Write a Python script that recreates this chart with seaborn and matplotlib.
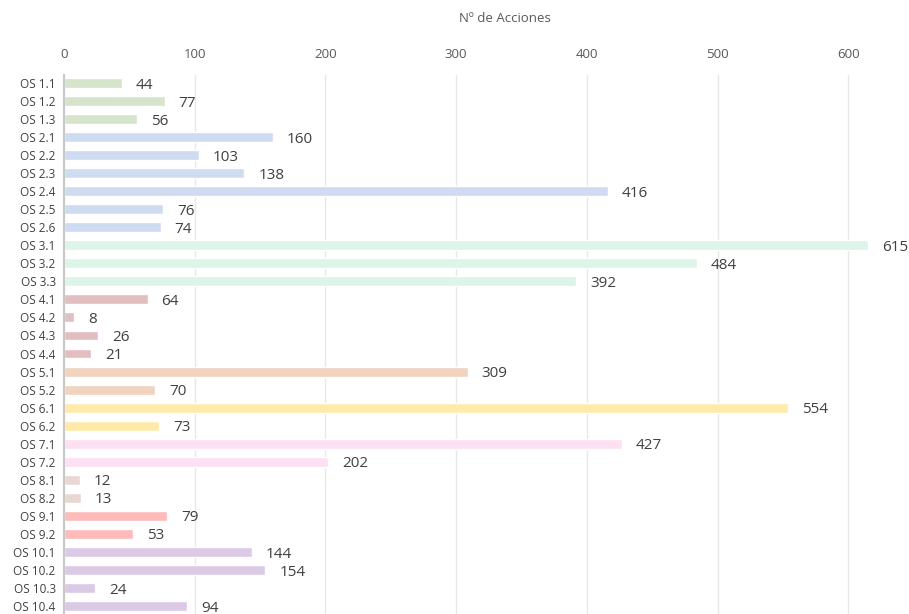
import pandas as pd
import matplotlib.pyplot as plt
import seaborn as sns

# -- data
labels = ["OS 1.1", "OS 1.2", "OS 1.3",
          "OS 2.1", "OS 2.2", "OS 2.3", "OS 2.4", "OS 2.5", "OS 2.6",
          "OS 3.1", "OS 3.2", "OS 3.3",
          "OS 4.1", "OS 4.2", "OS 4.3", "OS 4.4",
          "OS 5.1", "OS 5.2",
          "OS 6.1", "OS 6.2",
          "OS 7.1", "OS 7.2",
          "OS 8.1", "OS 8.2",
          "OS 9.1", "OS 9.2",
          "OS 10.1", "OS 10.2", "OS 10.3", "OS 10.4"]
acciones = [44, 77, 56,
            160, 103, 138, 416, 76, 74,
            615, 484, 392,
            64, 8, 26, 21,
            309, 70,
            554, 73,
            427, 202,
            12, 13,
            79, 53,
            144, 154, 24, 94]

group_colors = {"1": "#d6e4cc", "2": "#cfdbf1", "3": "#ddf4e9", "4": "#e3bec0",
                "5": "#f1d3bf", "6": "#ffeaa9", "7": "#fde0f2", "8": "#e9d7d2",
                "9": "#ffbaba", "10": "#dacae6"}

df = pd.DataFrame({"OS": labels, "Acciones": acciones})
df["Grupo"] = df["OS"].str.split(" ").str[1].str.split(".").str[0]
palette = [group_colors[g] for g in df["Grupo"]]

sns.set_style("white")
plt.rcParams["font.family"] = ["Open Sans", "DejaVu Sans"]

fig = plt.figure(figsize=(9.09, 6.14), dpi=100)
ax = fig.add_axes([64 / 909, 0.0, 845 / 909, 539 / 614])

sns.barplot(data=df, y="OS", x="Acciones", hue="OS", palette=palette,
            saturation=1, legend=False, orient="h", width=0.55, ax=ax, zorder=3)

for i, v in enumerate(acciones):
    ax.annotate(str(v), (v, i), xytext=(10, -1.5), textcoords="offset points",
                va="center", ha="left", fontsize=11, color="#404040")

ax.set_xlim(0, 646.5)
ax.set_ylim(29.44, -0.44)
ax.set_xticks([0, 100, 200, 300, 400, 500, 600])
ax.xaxis.tick_top()
ax.xaxis.set_label_position("top")
ax.set_xlabel("Nº de Acciones", fontsize=9.5, color="#595959")
ax.xaxis.set_label_coords(337 / 646.5, 1.098)
ax.set_ylabel("")
ax.tick_params(axis="x", length=0, labelsize=9.5, colors="#595959", pad=10)
ax.tick_params(axis="y", length=0, labelsize=8.5, colors="#404040", pad=6)
ax.grid(axis="x", color="#e8e8e8", linewidth=1, zorder=0)
for s in ["top", "right", "bottom"]:
    ax.spines[s].set_visible(False)
ax.spines["left"].set_color("#c8c8c8")
ax.spines["left"].set_linewidth(1.5)
ax.spines["left"].set_zorder(4)

fig.savefig("out.png", dpi=100)
plt.close(fig)
